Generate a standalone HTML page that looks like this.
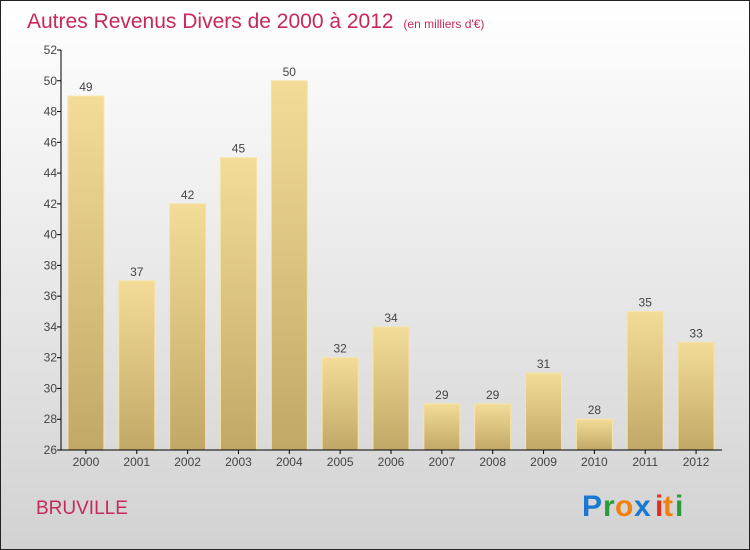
<!DOCTYPE html>
<html><head><meta charset="utf-8"><style>
body{margin:0}
#c{width:750px;height:550px;position:relative;box-sizing:border-box;border:1px solid #222;background:linear-gradient(#ffffff,#d2d2d2);font-family:"Liberation Sans",sans-serif;overflow:hidden}
</style></head><body>
<div id="c">
<svg width="750" height="550" style="position:absolute;left:-1px;top:-1px" id="svg">
<defs><linearGradient id="bg" x1="0" y1="0" x2="0" y2="1"><stop offset="0" stop-color="#f3dc98"/><stop offset="1" stop-color="#c2a866"/></linearGradient></defs>
<text x="27" y="28" font-size="21" fill="#c8285a" font-weight="300">Autres Revenus Divers de 2000 à 2012 <tspan font-size="12" dx="4">(en milliers d'€)</tspan></text>
<text x="36" y="514" font-size="19" fill="#c8285a">BRUVILLE</text>
<g font-size="30" font-weight="bold" font-family="Liberation Sans, sans-serif">
<text x="582" y="516" fill="#1a78d0">P</text><text x="603" y="516" fill="#2a9a3a">r</text><text x="615" y="516" fill="#f08010">o</text><text x="634" y="516" fill="#1a78d0">x</text><text x="655" y="516" fill="#e03020">i</text><text x="663" y="516" fill="#f08010">t</text><text x="675" y="516" fill="#2a9a3a">i</text>
</g>
<g id="plot"></g>
</svg>
</div>
<script>
const categories=["2000","2001","2002","2003","2004","2005","2006","2007","2008","2009","2010","2011","2012"];
const values=[49,37,42,45,50,32,34,29,29,31,28,35,33];
const yTicks=[26,28,30,32,34,36,38,40,42,44,46,48,50,52];
const yMin=26,yMax=52,pTop=50,pBot=450,pLeft=61,pRight=722;
const y=v=>pBot-(v-yMin)/(yMax-yMin)*(pBot-pTop);
const step=(pRight-pLeft)/categories.length;
const xc=i=>pLeft+step*(i+0.5)-0.5;
const g=document.getElementById('plot');
const ns="http://www.w3.org/2000/svg";
function mk(t,a){const e=document.createElementNS(ns,t);for(const k in a)e.setAttribute(k,a[k]);g.appendChild(e);return e;}
values.forEach((v,i)=>{
 const w=36,x=xc(i)-w/2;
 const r=mk('rect',{x:x,y:y(v),width:w,height:pBot-y(v),fill:'url(#bg)',stroke:'#f5e4a8','stroke-width':1});
 
 
 const t=mk('text',{x:xc(i),y:y(v)-5,'text-anchor':'middle','font-size':12,fill:'#444'});t.textContent=v;
 
 
 const l=mk('text',{x:xc(i),y:pBot+16,'text-anchor':'middle','font-size':12,fill:'#444'});l.textContent=categories[i];
 
 
 mk('line',{x1:xc(i),x2:xc(i),y1:pBot,y2:pBot+4,stroke:'#000'});
});
yTicks.forEach(v=>{
 mk('line',{x1:pLeft-4,x2:pLeft,y1:y(v),y2:y(v),stroke:'#000'});
 const t=mk('text',{x:pLeft-4,y:y(v)+4,'text-anchor':'end','font-size':12,fill:'#444'});t.textContent=v;
 
 
});
const ya=mk('line',{x1:pLeft,x2:pLeft,y1:pTop,y2:pBot,stroke:'#000'});


const xa=mk('line',{x1:pLeft,x2:pRight,y1:pBot,y2:pBot,stroke:'#000'});


</script>
</body></html>
